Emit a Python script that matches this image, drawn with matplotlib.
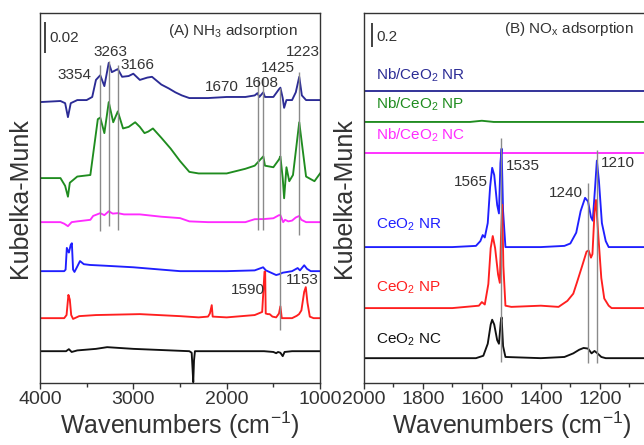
import matplotlib.pyplot as plt
from matplotlib.ticker import MultipleLocator

plt.rcParams['font.family'] = ['Liberation Sans', 'DejaVu Sans']
plt.rcParams['mathtext.fontset'] = 'custom'
plt.rcParams['mathtext.rm'] = 'Liberation Sans'
plt.rcParams['mathtext.it'] = 'Liberation Sans'
plt.rcParams['mathtext.default'] = 'regular'

samples = ['Nb/CeO$_2$ NR', 'Nb/CeO$_2$ NP', 'Nb/CeO$_2$ NC',
           'CeO$_2$ NR', 'CeO$_2$ NP', 'CeO$_2$ NC']
colors = ['#2b2b95', '#1f8c1f', '#ff2bff', '#1f1fff', '#ff1f1f', '#111111']

# (A) NH3 adsorption -- signals in 0.001 K-M units, stacked with offsets
nh3_offsets = [182.5, 132.2, 103.8, 72.2, 41.9, 20.6]

nh3_wn_0 = [4000, 3780, 3730, 3700, 3670, 3600, 3500, 3440, 3400, 3354, 3310, 3263, 3230,
            3166, 3120, 3050, 3000, 2930, 2850, 2800, 2700, 2620, 2550, 2480, 2400, 2200,
            2000, 1800, 1700, 1670, 1650, 1608, 1590, 1500, 1440, 1425, 1400, 1385, 1360,
            1300, 1260, 1223, 1195, 1150, 1000]
nh3_km_0 = [-1.3, -0.6, -2, -11, -2, 0, 0, 2, 13, 16, 9, 24, 18,
            20, 15, 15.5, 17, 13, 14.5, 15, 10, 7.5, 5, 3, 1.3, 1.3,
            2, 2, 3, 4.5, 2, 5, 2, 2, 7, 8, 1.3, -5, 0,
            0, 5, 15, 3, 0, 0]

nh3_wn_1 = [4000, 3780, 3730, 3700, 3680, 3600, 3460, 3420, 3380, 3354, 3310, 3263, 3215,
            3166, 3110, 3050, 2980, 2930, 2880, 2840, 2790, 2700, 2600, 2500, 2400, 2300,
            2000, 1800, 1700, 1608, 1590, 1500, 1440, 1425, 1400, 1385, 1360, 1330, 1290,
            1223, 1150, 1060, 1000]
nh3_km_1 = [0, 0, -5, -12, -3, 1, 2, 20, 38, 39, 29, 49, 36,
            43, 32, 33, 36, 33, 29, 30, 32, 26, 19, 11, 4, 3,
            3, 6, 8, 14, 8, 7, 12, 14, 0, -13, 7, -2, 2,
            36, 1, -2, 3]

nh3_wn_2 = [4000, 3780, 3740, 3700, 3660, 3600, 3460, 3430, 3354, 3310, 3263, 3220, 3166,
            3100, 2930, 2700, 2500, 2400, 2200, 1800, 1700, 1600, 1500, 1440, 1425, 1395,
            1375, 1340, 1300, 1260, 1223, 1200, 1150, 1000]
nh3_km_2 = [0, 0, -1, -2.6, 0, 0.5, 1.5, 4, 5.8, 4.5, 7, 5.5, 5.8,
            5, 5, 3.5, 2.6, 0.5, 0, 0, 1.9, 2, 2.5, 4.5, 4.5, 0,
            1.5, 0.5, 1, 3, 4, 1.5, 0, 0]

nh3_wn_3 = [4000, 3740, 3725, 3712, 3700, 3690, 3670, 3658, 3645, 3630, 3600, 3571, 3530,
            3464, 3300, 3000, 2700, 2500, 2000, 1700, 1610, 1580, 1470, 1440, 1420, 1400,
            1300, 1240, 1215, 1170, 1140, 1100, 1000]
nh3_km_3 = [0, 0, 1, 15, 13, 12, 17, 18, 1, -0.5, 3, 6.5, 4.5,
            4, 3.5, 2.5, 1, 0, 0, 0.5, 2.5, 0.5, -2.5, -2, -1.5, -1,
            0, 2, 0.5, 3.8, 1.5, 0, 0]

nh3_wn_4 = [4000, 3740, 3715, 3695, 3680, 3665, 3645, 3580, 3400, 2930, 2500, 2300, 2200,
            2180, 2160, 2150, 2000, 1700, 1620, 1595, 1588, 1582, 1560, 1540, 1510, 1470,
            1440, 1425, 1410, 1300, 1250, 1225, 1200, 1170, 1153, 1135, 1110, 1070, 1000]
nh3_km_4 = [0, 0, 2, 15, 12, 2, -0.5, 1.3, 2, 2.6, 1.3, 0.5, 1,
            3, 8.4, 1, 0.5, 2, 4, 30, 30, 3, 2.6, 2.6, 1, 0.5,
            3, 7.7, 0, 0, 1.5, 2.6, 5, 17, 20, 10, 1, 0, 0]

nh3_wn_5 = [4000, 3720, 3690, 3660, 3600, 3400, 3280, 3000, 2600, 2400, 2375, 2365, 2358,
            2350, 2340, 2000, 1600, 1500, 1470, 1450, 1425, 1400, 1380, 1300, 1000]
nh3_km_5 = [0, 0, 1.3, -0.5, 0.5, 1.5, 2.6, 1.5, 0.5, 0, -1, -12, -20,
            -6, 0, 0, 0, -0.5, -1.3, -0.5, -1, -3.2, -0.5, 0, 0]

nh3_wn = [nh3_wn_0, nh3_wn_1, nh3_wn_2, nh3_wn_3, nh3_wn_4, nh3_wn_5]
nh3_km = [nh3_km_0, nh3_km_1, nh3_km_2, nh3_km_3, nh3_km_4, nh3_km_5]

nh3_peaks = ['3354', '3263', '3166', '1670', '1608', '1425', '1223']
nh3_marks = [3354, 3263, 3166, 1670, 1608, 1425, 1223]
nh3_mark_lo = [0.098, 0.101, 0.099, 0.099, 0.099, 0.034, 0.0955]
nh3_mark_hi = [0.205, 0.208, 0.205, 0.197, 0.197, 0.190, 0.2006]

# (B) NOx adsorption -- signals in K-M units
nox_offsets = [2.433, 2.175, 1.917, 1.133, 0.625, 0.208]

nox_wn_0 = [2000, 1000]
nox_km_0 = [0, 0]
nox_wn_1 = [2000, 1640, 1600, 1560, 1000]
nox_km_1 = [0, 0, 0.01, 0, 0]
nox_wn_2 = [2000, 1000]
nox_km_2 = [0, 0]

nox_wn_3 = [2000, 1700, 1620, 1605, 1597, 1590, 1580, 1572, 1565, 1558, 1548, 1542, 1537,
            1533, 1528, 1520, 1400, 1320, 1300, 1280, 1265, 1250, 1240, 1230, 1224, 1216,
            1210, 1203, 1193, 1180, 1170, 1000]
nox_km_3 = [0, 0, 0.01, 0.05, 0.1, 0.08, 0.2, 0.5, 0.66, 0.6, 0.35, 0.28, 0.7,
            0.82, 0.3, 0, 0, 0.01, 0.03, 0.12, 0.3, 0.41, 0.38, 0.25, 0.22, 0.5,
            0.72, 0.55, 0.2, 0.05, 0, 0]

nox_wn_4 = [2000, 1700, 1610, 1600, 1590, 1578, 1570, 1563, 1555, 1545, 1539, 1535, 1531,
            1527, 1520, 1500, 1400, 1340, 1310, 1290, 1278, 1260, 1245, 1238, 1230, 1225,
            1218, 1213, 1205, 1195, 1185, 1170, 1160, 1000]
nox_km_4 = [0, 0, 0.02, 0.05, 0.03, 0.2, 0.5, 0.6, 0.5, 0.28, 0.21, 0.6, 0.86,
            0.35, 0.02, 0.01, 0.02, 0.01, 0.06, 0.12, 0.21, 0.35, 0.47, 0.48, 0.42, 0.45,
            0.8, 0.9, 0.6, 0.25, 0.08, 0.02, 0, 0]

nox_wn_5 = [2000, 1620, 1595, 1580, 1570, 1565, 1558, 1548, 1542, 1536, 1533, 1528, 1520,
            1400, 1320, 1290, 1270, 1255, 1240, 1228, 1218, 1208, 1195, 1180, 1000]
nox_km_5 = [0, 0, 0.02, 0.12, 0.28, 0.32, 0.28, 0.15, 0.12, 0.3, 0.34, 0.1, 0.01,
            0, 0.01, 0.04, 0.07, 0.085, 0.08, 0.04, 0.06, 0.04, 0.01, 0, 0]

nox_wn = [nox_wn_0, nox_wn_1, nox_wn_2, nox_wn_3, nox_wn_4, nox_wn_5]
nox_km = [nox_km_0, nox_km_1, nox_km_2, nox_km_3, nox_km_4, nox_km_5]

nox_peaks = ['1565', '1535', '1240', '1210']
nox_marks = [1535, 1240, 1210]
nox_mark_lo = [0.175, 0.167, 0.167]
nox_mark_hi = [2.04, 1.667, 1.94]

grey = '#333333'
fig = plt.figure(figsize=(6.44, 4.45), dpi=100)
ax_a = fig.add_axes([0.062, 0.139, 0.435, 0.832])
ax_b = fig.add_axes([0.565, 0.139, 0.458, 0.832])

# ---- panel A
for wn, km, off, c in zip(nh3_wn, nh3_km, nh3_offsets, colors):
    ax_a.plot(wn, [(off + v) / 1000 for v in km], color=c, lw=1.35)
ax_a.vlines(nh3_marks, nh3_mark_lo, nh3_mark_hi, color='#8a8a8a', lw=1.0)
ax_a.set_xlim(4000, 1000)
ax_a.set_ylim(0, 0.2387)
ax_a.xaxis.set_major_locator(MultipleLocator(1000))
ax_a.xaxis.set_minor_locator(MultipleLocator(500))

pk = dict(fontsize=11, color=grey, ha='center', va='center')
ax_a.text(3625, 0.1987, nh3_peaks[0], **pk)
ax_a.text(3250, 0.2135, nh3_peaks[1], **pk)
ax_a.text(2960, 0.2050, nh3_peaks[2], **pk)
ax_a.text(2050, 0.1910, nh3_peaks[3], **pk)
ax_a.text(1622, 0.1935, nh3_peaks[4], **pk)
ax_a.text(1450, 0.2030, nh3_peaks[5], **pk)
ax_a.text(1180, 0.2135, nh3_peaks[6], **pk)
ax_a.text(1770, 0.0600, '1590', **pk)
ax_a.text(1193, 0.0664, '1153', **pk)
ax_a.text(1930, 0.2270, '(A) NH$_3$ adsorption', **pk)
ax_a.vlines(3946, 0.2129, 0.2328, color=grey, lw=1.3)
ax_a.text(3903, 0.2225, '0.02', fontsize=11, color=grey, va='center')

# ---- panel B
for wn, km, off, c in zip(nox_wn, nox_km, nox_offsets, colors):
    ax_b.plot(wn, [off + v for v in km], color=c, lw=1.35)
ax_b.vlines(nox_marks, nox_mark_lo, nox_mark_hi, color='#8a8a8a', lw=1.0)
ax_b.set_xlim(2000, 1000)
ax_b.set_ylim(0, 3.083)
ax_b.set_xticks([2000, 1800, 1600, 1400, 1200])
ax_b.xaxis.set_minor_locator(MultipleLocator(100))

ax_b.text(1637, 1.675, nox_peaks[0], **pk)
ax_b.text(1461, 1.810, nox_peaks[1], **pk)
ax_b.text(1315, 1.580, nox_peaks[2], **pk)
ax_b.text(1139, 1.830, nox_peaks[3], **pk)
ax_b.text(1305, 2.950, '(B) NO$_x$ adsorption', **pk)
ax_b.vlines(1973, 2.80, 3.00, color=grey, lw=1.3)
ax_b.text(1958, 2.88, '0.2', fontsize=11, color=grey, va='center')

label_y = [2.565, 2.325, 2.065, 1.320, 0.790, 0.358]
for name, c, y in zip(samples, colors, label_y):
    ax_b.text(1958, y, name, fontsize=11, color=c, va='center')

for ax in (ax_a, ax_b):
    ax.set_yticks([])
    ax.set_ylabel('Kubelka-Munk', fontsize=18, color=grey, labelpad=6)
    ax.set_xlabel('Wavenumbers (cm$^{-1}$)', fontsize=18, color=grey, labelpad=1)
    ax.tick_params(axis='x', which='both', direction='out', colors=grey,
                   labelsize=14, pad=2)
    ax.tick_params(axis='x', which='major', length=4, width=1)
    ax.tick_params(axis='x', which='minor', length=3, width=1)
    for s in ax.spines.values():
        s.set_color(grey)
        s.set_linewidth(1.0)

fig.savefig('out.png', dpi=100)
